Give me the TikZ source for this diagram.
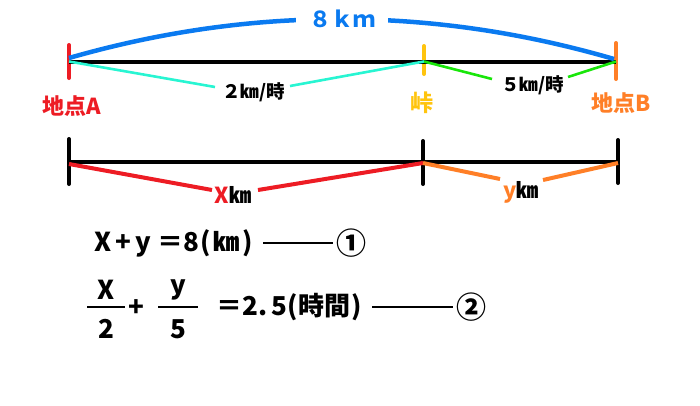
\documentclass[tikz,border=0pt]{standalone}
\usepackage{fontspec}
\newfontfamily\jp{Noto Sans CJK JP}
\definecolor{cred}{RGB}{237,28,36}
\definecolor{corange}{RGB}{255,127,39}
\definecolor{cgold}{RGB}{255,196,14}
\definecolor{cblue}{RGB}{10,122,240}
\definecolor{ccyan}{RGB}{40,245,210}
\definecolor{cgreen}{RGB}{25,230,10}
\begin{document}
\begin{tikzpicture}[x=1pt,y=-1pt,
  every node/.style={font=\jp\bfseries, inner sep=0pt, anchor=center},
  tickmark/.style={line width=4pt, line cap=round},
  baseline/.style={line width=4pt},
  thin/.style={line width=2.6pt},
  thick/.style={line width=4pt},
  eqline/.style={line width=2.6pt},
  fs/.style={font=\jp\bfseries\fontsize{#1}{#1}\selectfont}]
\useasboundingbox (0,0) rectangle (700,405);
% ---------- top diagram ----------
\coordinate (A) at (69,61.5);
\coordinate (P) at (424,61.5);
\coordinate (B) at (616,61.5);
\coordinate (At) at (69,45);  \coordinate (Ab) at (69,78);
\coordinate (Pt) at (424,46); \coordinate (Pb) at (424,74);
\coordinate (Bt) at (616,43); \coordinate (Bb) at (616,79);
\draw[tickmark, cred] (At) -- (Ab);
\draw[tickmark, cgold] (Pt) -- (Pb);
\draw[tickmark, corange] (Bt) -- (Bb);
\draw[baseline] (A) -- (B);
\coordinate (Ab1) at (69,58);
\coordinate (Bb1) at (614,59);
\draw[line width=4.5pt, cblue] (Ab1) .. controls (250,6) and (432,6) .. (Bb1);
\node[fs=22, text=cblue, fill=white, inner xsep=13pt, inner ysep=3pt] (d8) at (342,19) {８ｋｍ};
% cyan
\node[fs=18.5] (v2) at (253.5,92) {２㎞/時};
\coordinate (c1) at (215,87);
\coordinate (c2) at (290,86);
\draw[thin, ccyan] (A) -- (c1);
\draw[thin, ccyan] (c2) -- (P);
% green
\node[fs=18.5] (v5) at (532.5,85) {５㎞/時};
\coordinate (g1) at (492,79);
\coordinate (g2) at (568,77);
\draw[thin, cgreen] (P) -- (g1);
\draw[thin, cgreen] (g2) -- (B);
% labels
\node[fs=22, text=cred] (lA) at (72,106) {地点A};
\node[fs=23, text=cgold] (lP) at (422,103) {峠};
\node[fs=22, text=corange] (lB) at (621,103) {地点B};
% ---------- lower diagram ----------
\coordinate (L) at (69,162);
\coordinate (M) at (423,162);
\coordinate (R) at (618,162);
\coordinate (Lt) at (69,139);  \coordinate (Lb) at (69,184);
\coordinate (Mt) at (423,141); \coordinate (Mb) at (423,184);
\coordinate (Rt) at (618,140); \coordinate (Rb) at (618,183);
\draw[tickmark] (Lt) -- (Lb);
\draw[tickmark] (Mt) -- (Mb);
\draw[tickmark] (Rt) -- (Rb);
\draw[baseline] (L) -- (R);
\coordinate (L1) at (69,164);
\coordinate (M1) at (423,163);
\coordinate (R1) at (618,163);
\node[fs=22] (xkm) at (233,195) {\textcolor{cred}{X}㎞};
\node[fs=22] (ykm) at (521,192) {\textcolor{corange}{y}㎞};
\coordinate (x1) at (212,190);
\coordinate (x2) at (258,190);
\coordinate (y1) at (500,179);
\coordinate (y2) at (543,180);
\draw[thick, cred] (L1) -- (x1);
\draw[thick, cred] (x2) -- (M1);
\draw[thick, corange] (M1) -- (y1);
\draw[thick, corange] (y2) -- (R1);
% ---------- equations ----------
\node[fs=26, anchor=west] (eq1) at (94,243) {X\hspace{4pt}+\hspace{4pt}y\hspace{7pt}＝8\hspace{1pt}(\hspace{2pt}㎞\hspace{3pt})};
\coordinate (e1a) at (263,243);
\coordinate (e1b) at (333,243);
\draw[eqline] (e1a) -- (e1b);
\node[fs=30] (n1) at (351,243) {①};
% fractions
\node[fs=26] (fx) at (106,290) {X};
\node[fs=26] (f2) at (106,329) {2};
\coordinate (fb1a) at (87,307); \coordinate (fb1b) at (125,307);
\draw[eqline] (fb1a) -- (fb1b);
\node[fs=26] (plus) at (136,308) {+};
\node[fs=26] (fy) at (178,290) {y};
\node[fs=26] (f5) at (178,329) {5};
\coordinate (fb2a) at (158,307); \coordinate (fb2b) at (198,307);
\draw[eqline] (fb2a) -- (fb2b);
\node[fs=26, anchor=west] (eq2) at (216,307) {＝2.\hspace{4pt}5\hspace{1pt}(時間\hspace{1pt})};
\coordinate (e2a) at (372,307);
\coordinate (e2b) at (453,307);
\draw[eqline] (e2a) -- (e2b);
\node[fs=30] (n2) at (471,307) {②};
\end{tikzpicture}
\end{document}
